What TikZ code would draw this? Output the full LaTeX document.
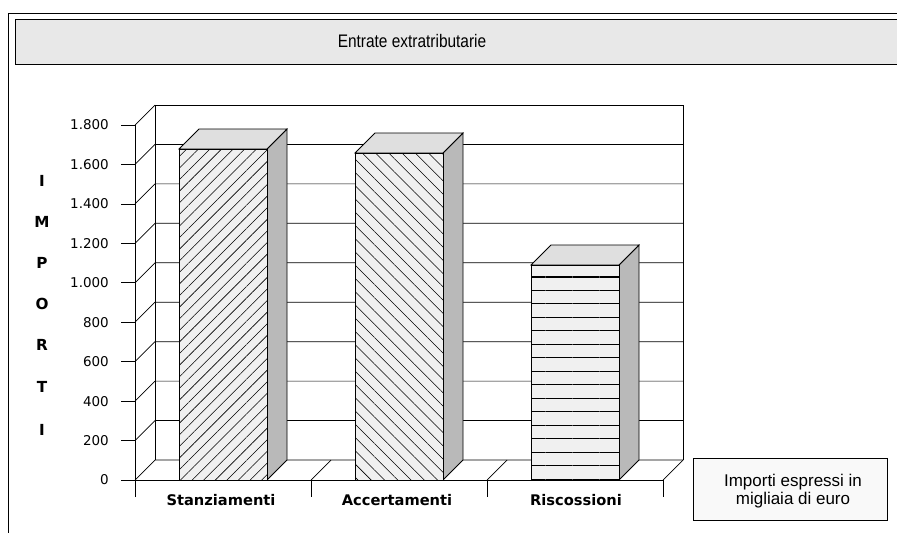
\documentclass[tikz,border=0pt]{standalone}
\usepackage{fontspec}
\setmainfont{DejaVu Sans}
\newfontfamily\titlefont[FakeStretch=0.85]{Liberation Sans}
\newfontfamily\notefont{Liberation Sans}
\usetikzlibrary{patterns.meta}

\begin{document}
\begin{tikzpicture}[x=0.03cm, y=-0.03cm,
  frame/.style={draw=black, line width=0.7pt},
  chart line/.style={draw=black, line width=0.6pt},
  bar front/.style={draw=black, line width=0.7pt, preaction={fill=gray!12}},
  bar side/.style={draw=black, line width=0.7pt, fill=gray!55},
  bar top/.style={draw=black, line width=0.7pt, fill=gray!25},
  value label/.style={anchor=east, inner sep=0pt, font=\fontsize{11.5}{13}\selectfont},
  axis letter/.style={inner sep=0pt, font=\bfseries\fontsize{13}{15}\selectfont},
  category label/.style={inner sep=0pt, font=\bfseries\fontsize{12.5}{14}\selectfont}]
  \useasboundingbox (0,0) rectangle (897,533);

  % Add page frame and title band
  \draw[frame] (897,13) -- (8,13) -- (8,533);
  \draw[frame, fill=gray!18] (15,19) rectangle (897,64);
  \node[font=\titlefont\fontsize{15.5}{17}\selectfont] (title) at (412,41) {Entrate extratributarie};

  % Add walls and grid
  \draw[chart line] (155,460) -- (155,105) -- (683,105) -- (683,460);
  \draw[chart line] (135,125) -- (155,105);
  \foreach \v in {0,200,...,1600}
    \draw[chart line] (135,{480-\v*0.19722}) -- (155,{460-\v*0.19722}) -- (683,{460-\v*0.19722});

  % Add floor
  \draw[chart line] (663,480) -- (683,460);
  \foreach \x in {311,487}
    \draw[chart line] (\x,480) -- (\x+20,460);

  % Add axes
  \draw[chart line] (135,497) -- (135,125);
  \draw[chart line] (121,480) -- (663,480);
  \foreach \x in {311,487,663}
    \draw[chart line] (\x,480) -- (\x,497);
  \foreach \v/\t in {0/0, 200/200, 400/400, 600/600, 800/800, 1000/1.000, 1200/1.200, 1400/1.400, 1600/1.600, 1800/1.800} {
    \draw[chart line] (121,{480-\v*0.19722}) -- (135,{480-\v*0.19722});
    \node[value label] (tick\v) at (109,{480-\v*0.19722}) {\t};
  }

  % Stanziamenti
  \draw[bar side] (267,480) -- (287,460) -- (287,129) -- (267,149) -- cycle;
  \draw[bar top] (179,149) -- (199,129) -- (287,129) -- (267,149) -- cycle;
  \draw[bar front, pattern={Lines[angle=45, distance=7pt, line width=0.5pt]}] (179,480) rectangle (267,149);

  % Accertamenti
  \draw[bar side] (443,480) -- (463,460) -- (463,133) -- (443,153) -- cycle;
  \draw[bar top] (355,153) -- (375,133) -- (463,133) -- (443,153) -- cycle;
  \draw[bar front, pattern={Lines[angle=-45, distance=8pt, line width=0.5pt]}] (355,480) rectangle (443,153);

  % Riscossioni
  \draw[bar side] (619,480) -- (639,460) -- (639,245) -- (619,265) -- cycle;
  \draw[bar top] (531,265) -- (551,245) -- (639,245) -- (619,265) -- cycle;
  \draw[bar front, pattern={Lines[angle=0, distance=11.5pt, line width=0.9pt]}] (531,480) rectangle (619,265);

  % Add labels
  \foreach \c/\y in {I/181, M/222, P/263, O/304, R/345, T/387, I/430}
    \node[axis letter] (letter\y) at (42,\y) {\c};
  \node[category label] (stanz) at (221,500) {Stanziamenti};
  \node[category label] (accert) at (397,500) {Accertamenti};
  \node[category label] (risc) at (576,500) {Riscossioni};

  % Add note box
  \draw[frame, fill=gray!5] (693,458) rectangle (887,520);
  \node[align=center, font=\notefont\fontsize{14.5}{15}\selectfont] (note) at (793,491) {Importi espressi in\\migliaia di euro};
\end{tikzpicture}
\end{document}
